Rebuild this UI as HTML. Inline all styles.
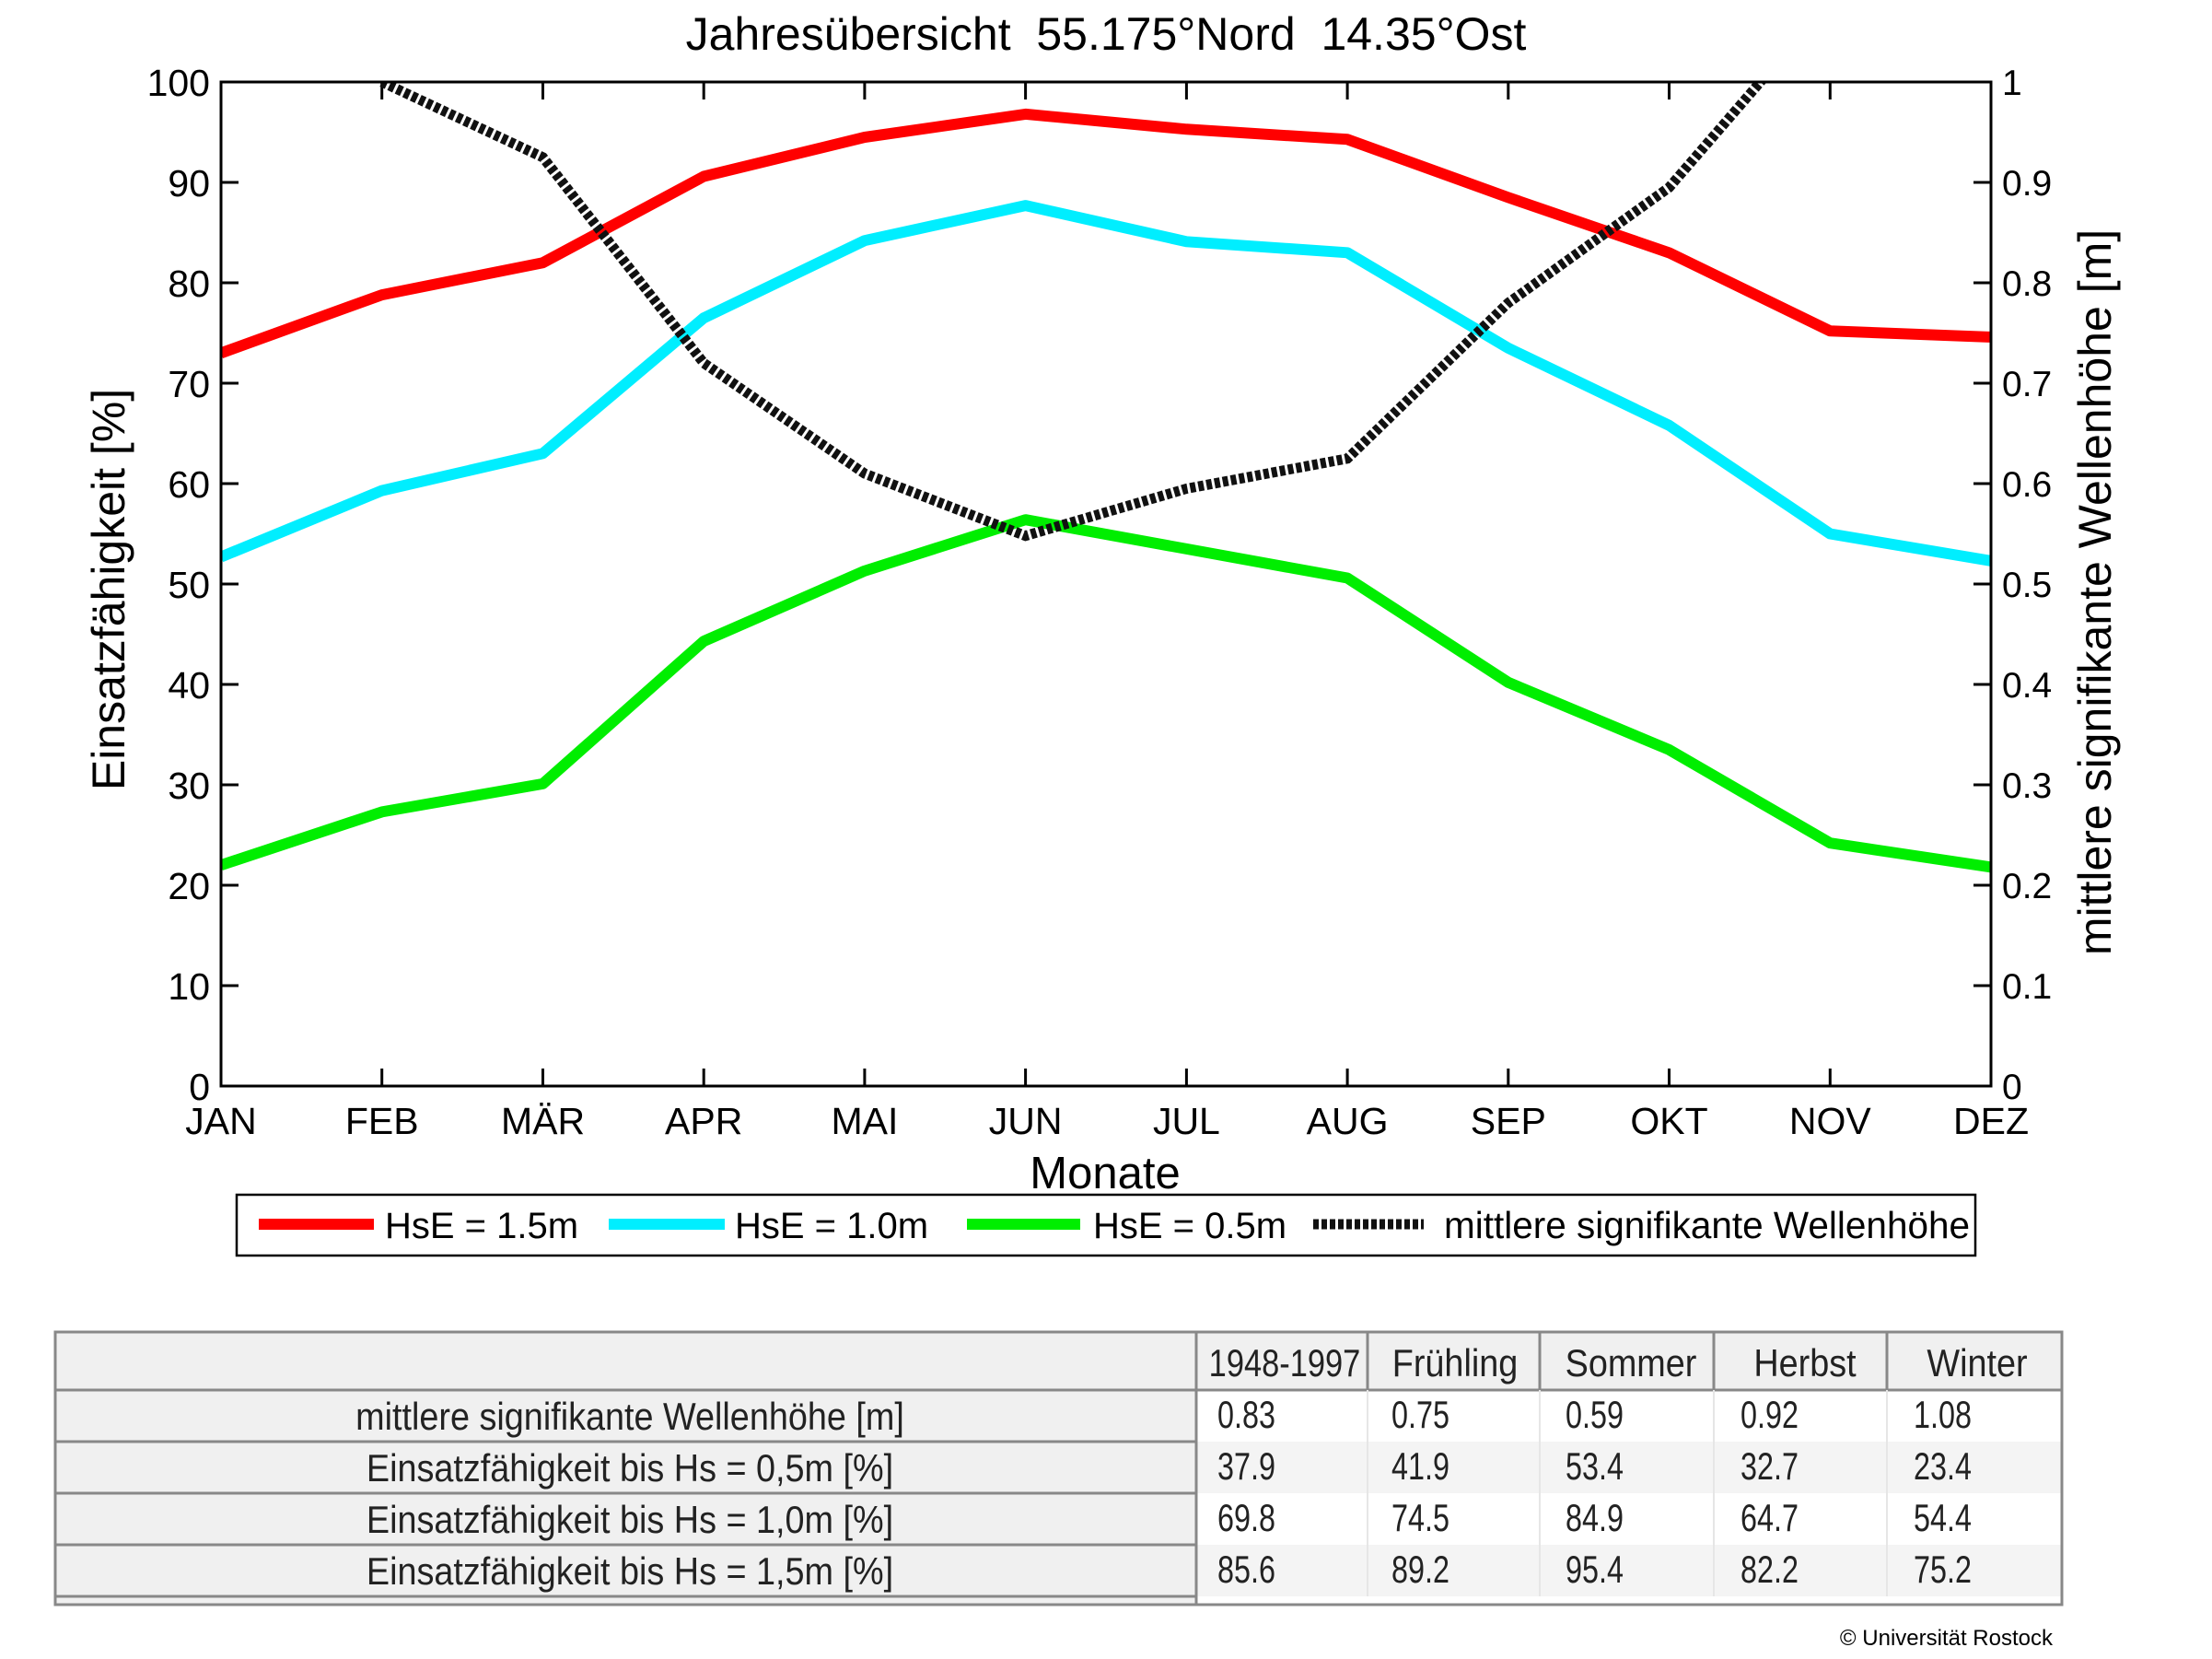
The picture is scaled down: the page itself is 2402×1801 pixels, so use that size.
<!DOCTYPE html>
<html><head><meta charset="utf-8"><style>
html,body{margin:0;padding:0;background:#fff;}
svg{display:block;}
.t{font-family:"Liberation Sans",sans-serif;fill:#000;}
.tb{font-family:"Liberation Sans",sans-serif;font-size:42px;fill:#222;}
</style></head><body>
<svg width="2402" height="1801" viewBox="0 0 2402 1801" xmlns="http://www.w3.org/2000/svg">
<rect width="2402" height="1801" fill="#fff"/>
<text class="t" x="1201" y="54" font-size="50" text-anchor="middle" xml:space="preserve">Jahresübersicht  55.175°Nord  14.35°Ost</text>
<defs><clipPath id="pc"><rect x="240" y="89" width="1922" height="1090"/></clipPath></defs>
<g stroke="#000" stroke-width="3">
<line x1="414.7" y1="89" x2="414.7" y2="108"/><line x1="589.5" y1="89" x2="589.5" y2="108"/><line x1="764.2" y1="89" x2="764.2" y2="108"/><line x1="938.9" y1="89" x2="938.9" y2="108"/><line x1="1113.6" y1="89" x2="1113.6" y2="108"/><line x1="1288.4" y1="89" x2="1288.4" y2="108"/><line x1="1463.1" y1="89" x2="1463.1" y2="108"/><line x1="1637.8" y1="89" x2="1637.8" y2="108"/><line x1="1812.5" y1="89" x2="1812.5" y2="108"/><line x1="1987.3" y1="89" x2="1987.3" y2="108"/>
<line x1="414.7" y1="1179" x2="414.7" y2="1160"/><line x1="589.5" y1="1179" x2="589.5" y2="1160"/><line x1="764.2" y1="1179" x2="764.2" y2="1160"/><line x1="938.9" y1="1179" x2="938.9" y2="1160"/><line x1="1113.6" y1="1179" x2="1113.6" y2="1160"/><line x1="1288.4" y1="1179" x2="1288.4" y2="1160"/><line x1="1463.1" y1="1179" x2="1463.1" y2="1160"/><line x1="1637.8" y1="1179" x2="1637.8" y2="1160"/><line x1="1812.5" y1="1179" x2="1812.5" y2="1160"/><line x1="1987.3" y1="1179" x2="1987.3" y2="1160"/>
<line x1="240" y1="198" x2="259" y2="198"/><line x1="240" y1="307" x2="259" y2="307"/><line x1="240" y1="416" x2="259" y2="416"/><line x1="240" y1="525" x2="259" y2="525"/><line x1="240" y1="634" x2="259" y2="634"/><line x1="240" y1="743" x2="259" y2="743"/><line x1="240" y1="852" x2="259" y2="852"/><line x1="240" y1="961" x2="259" y2="961"/><line x1="240" y1="1070" x2="259" y2="1070"/>
<line x1="2162" y1="198" x2="2143" y2="198"/><line x1="2162" y1="307" x2="2143" y2="307"/><line x1="2162" y1="416" x2="2143" y2="416"/><line x1="2162" y1="525" x2="2143" y2="525"/><line x1="2162" y1="634" x2="2143" y2="634"/><line x1="2162" y1="743" x2="2143" y2="743"/><line x1="2162" y1="852" x2="2143" y2="852"/><line x1="2162" y1="961" x2="2143" y2="961"/><line x1="2162" y1="1070" x2="2143" y2="1070"/>
</g>
<g clip-path="url(#pc)" fill="none" stroke-width="12" stroke-linejoin="round">
<polyline stroke="#ff0000" points="240,383.3 414.7,320.1 589.5,285.2 764.2,191.5 938.9,149.0 1113.6,123.9 1288.4,140.3 1463.1,151.3 1637.8,214.4 1812.5,274.4 1987.3,359.3 2162,365.9"/>
<polyline stroke="#00eeff" points="240,604.6 414.7,532.6 589.5,492.3 764.2,345.2 938.9,261.2 1113.6,223.1 1288.4,262.3 1463.1,274.3 1637.8,377.9 1812.5,461.8 1987.3,579.5 2162,608.9"/>
<polyline stroke="#00ee00" points="240,939.2 414.7,881.4 589.5,850.9 764.2,696.1 938.9,619.8 1113.6,564.2 1288.4,595.9 1463.1,627.5 1637.8,740.8 1812.5,813.9 1987.3,915.2 2162,941.4"/>
<polyline stroke="#111" stroke-width="11" stroke-dasharray="6 3" stroke-linejoin="miter" points="414.7,89 589.5,170.8 764.2,394.2 938.9,514.1 1113.6,581.7 1288.4,530.5 1463.1,497.8 1637.8,328.8 1812.5,203.5 1987.3,1.3"/>
</g>
<rect x="240" y="89" width="1922" height="1090" fill="none" stroke="#000" stroke-width="3"/>
<g class="t" font-size="41" text-anchor="end">
<text x="228" y="104">100</text><text x="228" y="213">90</text><text x="228" y="322">80</text><text x="228" y="431">70</text><text x="228" y="540">60</text><text x="228" y="649">50</text><text x="228" y="758">40</text><text x="228" y="867">30</text><text x="228" y="976">20</text><text x="228" y="1085">10</text><text x="228" y="1194">0</text>
</g>
<g class="t" font-size="39">
<text x="2174" y="103">1</text><text x="2174" y="212">0.9</text><text x="2174" y="321">0.8</text><text x="2174" y="430">0.7</text><text x="2174" y="539">0.6</text><text x="2174" y="648">0.5</text><text x="2174" y="757">0.4</text><text x="2174" y="866">0.3</text><text x="2174" y="975">0.2</text><text x="2174" y="1084">0.1</text><text x="2174" y="1193">0</text>
</g>
<g class="t" font-size="41" text-anchor="middle">
<text x="240" y="1231">JAN</text><text x="414.7" y="1231">FEB</text><text x="589.5" y="1231">MÄR</text><text x="764.2" y="1231">APR</text><text x="938.9" y="1231">MAI</text><text x="1113.6" y="1231">JUN</text><text x="1288.4" y="1231">JUL</text><text x="1463.1" y="1231">AUG</text><text x="1637.8" y="1231">SEP</text><text x="1812.5" y="1231">OKT</text><text x="1987.3" y="1231">NOV</text><text x="2162" y="1231">DEZ</text>
</g>
<text class="t" x="1200" y="1290" font-size="49" text-anchor="middle">Monate</text>
<text class="t" font-size="50" text-anchor="middle" transform="translate(135,640) rotate(-90)">Einsatzfähigkeit [%]</text>
<text class="t" font-size="50" text-anchor="middle" transform="translate(2292,643) rotate(-90)">mittlere signifikante Wellenhöhe [m]</text>
<rect x="257" y="1297" width="1888" height="66" fill="#fff" stroke="#000" stroke-width="2.5"/>
<g stroke-width="12">
<line x1="281" y1="1329" x2="406" y2="1329" stroke="#ff0000"/>
<line x1="661" y1="1329" x2="787" y2="1329" stroke="#00eeff"/>
<line x1="1050" y1="1329" x2="1173" y2="1329" stroke="#00ee00"/>
<line x1="1426" y1="1329" x2="1546" y2="1329" stroke="#111" stroke-width="11" stroke-dasharray="6 3"/>
</g>
<g class="t" font-size="40">
<text x="418" y="1344">HsE = 1.5m</text><text x="798" y="1344">HsE = 1.0m</text><text x="1187" y="1344">HsE = 0.5m</text><text x="1568" y="1344" font-size="40.5">mittlere signifikante Wellenhöhe</text>
</g>
<!-- table -->
<rect x="60" y="1446" width="2179" height="296" fill="#fff"/>
<rect x="60" y="1446" width="1239" height="296" fill="#f0f0f0"/>
<rect x="1299" y="1446" width="940" height="63" fill="#f0f0f0"/>
<rect x="1299" y="1565" width="940" height="56" fill="#f4f4f4"/>
<rect x="1299" y="1677" width="940" height="56" fill="#f4f4f4"/>
<g stroke="#888" stroke-width="3" fill="none">
<rect x="60" y="1446" width="2179" height="296"/>
<line x1="60" y1="1509" x2="2239" y2="1509"/>
<line x1="60" y1="1565" x2="1299" y2="1565"/>
<line x1="60" y1="1621" x2="1299" y2="1621"/>
<line x1="60" y1="1677" x2="1299" y2="1677"/>
<line x1="60" y1="1733" x2="1299" y2="1733"/>
<line x1="1299" y1="1446" x2="1299" y2="1742"/>
<line x1="1485" y1="1446" x2="1485" y2="1509"/><line x1="1672" y1="1446" x2="1672" y2="1509"/><line x1="1861" y1="1446" x2="1861" y2="1509"/><line x1="2049" y1="1446" x2="2049" y2="1509"/>
</g>
<g stroke="#e6e6e6" stroke-width="2"><line x1="1485" y1="1509" x2="1485" y2="1733"/><line x1="1672" y1="1509" x2="1672" y2="1733"/><line x1="1861" y1="1509" x2="1861" y2="1733"/><line x1="2049" y1="1509" x2="2049" y2="1733"/></g>
<g class="tb" text-anchor="middle">
<text transform="translate(684,1552) scale(0.9,1)">mittlere signifikante Wellenhöhe [m]</text>
<text transform="translate(684,1608) scale(0.9,1)">Einsatzfähigkeit bis Hs = 0,5m [%]</text>
<text transform="translate(684,1664) scale(0.9,1)">Einsatzfähigkeit bis Hs = 1,0m [%]</text>
<text transform="translate(684,1720) scale(0.9,1)">Einsatzfähigkeit bis Hs = 1,5m [%]</text>
<text transform="translate(1395,1494) scale(0.82,1)">1948-1997</text>
<text transform="translate(1580,1494) scale(0.9,1)">Frühling</text>
<text transform="translate(1771,1494) scale(0.9,1)">Sommer</text>
<text transform="translate(1960,1494) scale(0.9,1)">Herbst</text>
<text transform="translate(2147,1494) scale(0.9,1)">Winter</text>
</g>
<g class="tb">
<text transform="translate(1322,1550) scale(0.77,1)">0.83</text><text transform="translate(1511,1550) scale(0.77,1)">0.75</text><text transform="translate(1700,1550) scale(0.77,1)">0.59</text><text transform="translate(1890,1550) scale(0.77,1)">0.92</text><text transform="translate(2078,1550) scale(0.77,1)">1.08</text>
<text transform="translate(1322,1606) scale(0.77,1)">37.9</text><text transform="translate(1511,1606) scale(0.77,1)">41.9</text><text transform="translate(1700,1606) scale(0.77,1)">53.4</text><text transform="translate(1890,1606) scale(0.77,1)">32.7</text><text transform="translate(2078,1606) scale(0.77,1)">23.4</text>
<text transform="translate(1322,1662) scale(0.77,1)">69.8</text><text transform="translate(1511,1662) scale(0.77,1)">74.5</text><text transform="translate(1700,1662) scale(0.77,1)">84.9</text><text transform="translate(1890,1662) scale(0.77,1)">64.7</text><text transform="translate(2078,1662) scale(0.77,1)">54.4</text>
<text transform="translate(1322,1718) scale(0.77,1)">85.6</text><text transform="translate(1511,1718) scale(0.77,1)">89.2</text><text transform="translate(1700,1718) scale(0.77,1)">95.4</text><text transform="translate(1890,1718) scale(0.77,1)">82.2</text><text transform="translate(2078,1718) scale(0.77,1)">75.2</text>
</g>
<text class="t" x="2229" y="1786" font-size="24" text-anchor="end">© Universität Rostock</text>
</svg>
</body></html>
